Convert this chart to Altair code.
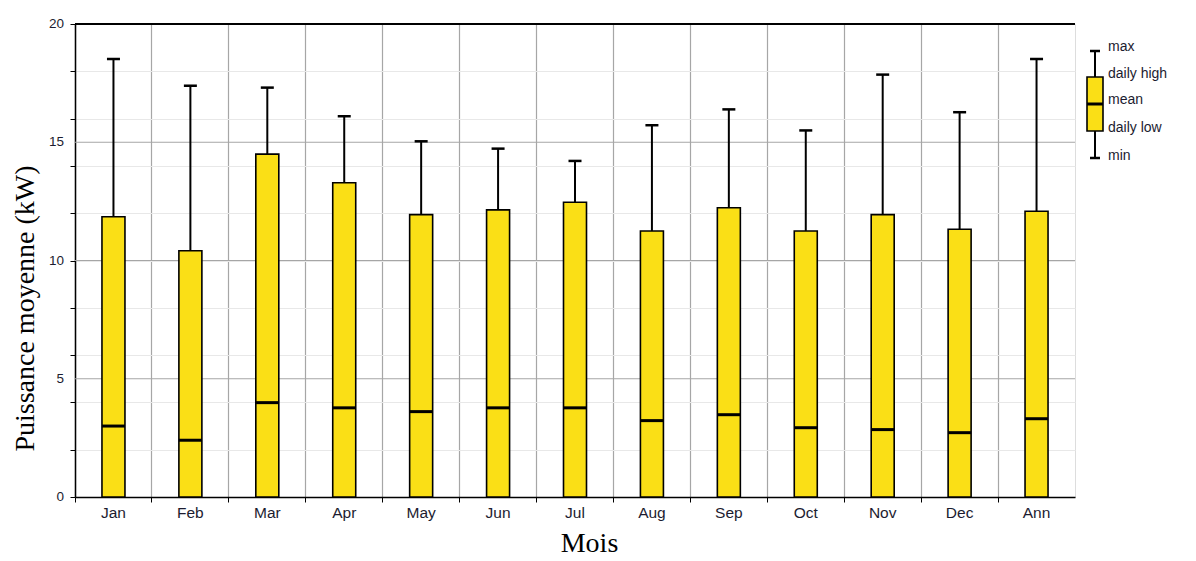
import altair as alt
import pandas as pd

months = ["Jan", "Feb", "Mar", "Apr", "May", "Jun", "Jul", "Aug", "Sep", "Oct", "Nov", "Dec", "Ann"]
max_vals = [18.52, 17.39, 17.31, 16.10, 15.04, 14.73, 14.21, 15.72, 16.39, 15.50, 17.86, 16.27, 18.52]
daily_high = [11.85, 10.41, 14.50, 13.29, 11.94, 12.14, 12.46, 11.25, 12.23, 11.25, 11.94, 11.32, 12.08]
mean_vals = [3.00, 2.40, 3.99, 3.77, 3.61, 3.77, 3.77, 3.23, 3.48, 2.93, 2.85, 2.72, 3.31]
daily_low = [0, 0, 0, 0, 0, 0, 0, 0, 0, 0, 0, 0, 0]
min_vals = [0, 0, 0, 0, 0, 0, 0, 0, 0, 0, 0, 0, 0]

y_tick_labels = [0, 5, 10, 15, 20]
major_grid = [5, 10, 15]
legend_labels = ["max", "daily high", "mean", "daily low", "min"]

df = pd.DataFrame({
    "month": months, "max": max_vals, "high": daily_high,
    "mean": mean_vals, "low": daily_low, "min": min_vals,
})

W, H = 1000, 473
YELLOW = "#FADF16"
FONT = "Liberation Sans"
SERIF = "Liberation Serif"
LABEL_COLOR = "#1c1c30"

x_enc = alt.X("month:N", sort=months,
              scale=alt.Scale(paddingInner=0, paddingOuter=0),
              axis=alt.Axis(title="Mois", bandPosition=0, labelOffset=0,
                            labelAngle=0, grid=True, gridColor="#a6a6a6", gridWidth=1.2,
                            domainColor="#000", domainWidth=1.5, tickColor="#000",
                            tickSize=5, labelPadding=3, labelFont=FONT, labelFontSize=15.5,
                            labelColor=LABEL_COLOR, titleFont=SERIF, titleFontSize=28,
                            titleFontWeight="normal", titleColor="#000", titlePadding=9,
                            titleX=514))

y_scale = alt.Scale(domain=[0, 20], nice=False)
y_axis = alt.Axis(title="Puissance moyenne (kW)", values=list(range(0, 21)),
                  labels=False,
                  grid=True, gridColor="#e8e8e8", gridWidth=1,
                  domainColor="#000", domainWidth=1.5, tickColor="#000", tickSize=5,
                  titleFont=SERIF, titleFontSize=28, titleFontWeight="normal",
                  titleColor="#000", titlePadding=30, titleY=284)

base = alt.Chart(df)

major = alt.Chart(pd.DataFrame({"v": major_grid})).mark_rule(color="#a6a6a6", strokeWidth=1.2).encode(
    y=alt.Y("v:Q", scale=y_scale, axis=y_axis))
y_labels = alt.Chart(pd.DataFrame({"v": y_tick_labels})).mark_text(
    align="right", baseline="middle", font=FONT, fontSize=13.5, color=LABEL_COLOR).encode(
    y=alt.Y("v:Q"), x=alt.value(-11), text="v:Q")
whisker = base.mark_rule(color="#000", strokeWidth=2).encode(
    x=x_enc, y=alt.Y("high:Q"), y2="max:Q")
cap = base.mark_tick(color="#000", opacity=1, thickness=2.5, size=13, orient="horizontal").encode(
    x=alt.X("month:N", sort=months), y=alt.Y("max:Q"))
bars = base.mark_bar(fill=YELLOW, stroke="#000", strokeWidth=1.6, size=23, opacity=1).encode(
    x=alt.X("month:N", sort=months), y=alt.Y("low:Q"), y2="high:Q")
mean_tick = base.mark_tick(color="#000", opacity=1, thickness=3, size=23, orient="horizontal").encode(
    x=alt.X("month:N", sort=months), y=alt.Y("mean:Q"))
top_border = alt.Chart(pd.DataFrame({"v": [20]})).mark_rule(color="#000", strokeWidth=2).encode(
    y=alt.Y("v:Q"))

# legend glyph (drawn to the right of the plot)
LX = 1020
lg_ys = [27, 53, 80, 107, 134]
lg_whisk = alt.Chart(pd.DataFrame({"a": [0]})).mark_rule(color="#000", strokeWidth=2).encode(
    x=alt.value(LX), y=alt.value(lg_ys[0]), y2=alt.value(lg_ys[4]))
lg_caps = [alt.Chart(pd.DataFrame({"a": [0]})).mark_rule(color="#000", strokeWidth=2.5).encode(
    x=alt.value(LX - 5), x2=alt.value(LX + 5), y=alt.value(yy)) for yy in (lg_ys[0], lg_ys[4])]
lg_box = alt.Chart(pd.DataFrame({"a": [0]})).mark_rect(fill=YELLOW, stroke="#000", strokeWidth=1.6).encode(
    x=alt.value(LX - 8), x2=alt.value(LX + 8), y=alt.value(lg_ys[1]), y2=alt.value(lg_ys[3]))
lg_mean = alt.Chart(pd.DataFrame({"a": [0]})).mark_rule(color="#000", strokeWidth=3).encode(
    x=alt.value(LX - 8), x2=alt.value(LX + 8), y=alt.value(lg_ys[2]))
lg_text = [alt.Chart(pd.DataFrame({"t": [lab]})).mark_text(
    align="left", baseline="middle", font=FONT, fontSize=14, color=LABEL_COLOR).encode(
    x=alt.value(LX + 13), y=alt.value(yy), text="t:N")
    for lab, yy in zip(legend_labels, [23, 50, 76, 104, 132])]

chart = alt.layer(major, y_labels, whisker, cap, bars, mean_tick, top_border,
                  lg_whisk, *lg_caps, lg_box, lg_mean, *lg_text).properties(
    width=W, height=H,
    autosize=alt.AutoSizeParams(type="none"),
    padding={"left": 67, "top": 16, "right": 110, "bottom": 64},
).configure_view(stroke="#999", strokeWidth=1, clip=False).configure(background="white")

chart.save("out.html", embed_options={"renderer": "svg", "actions": False})
